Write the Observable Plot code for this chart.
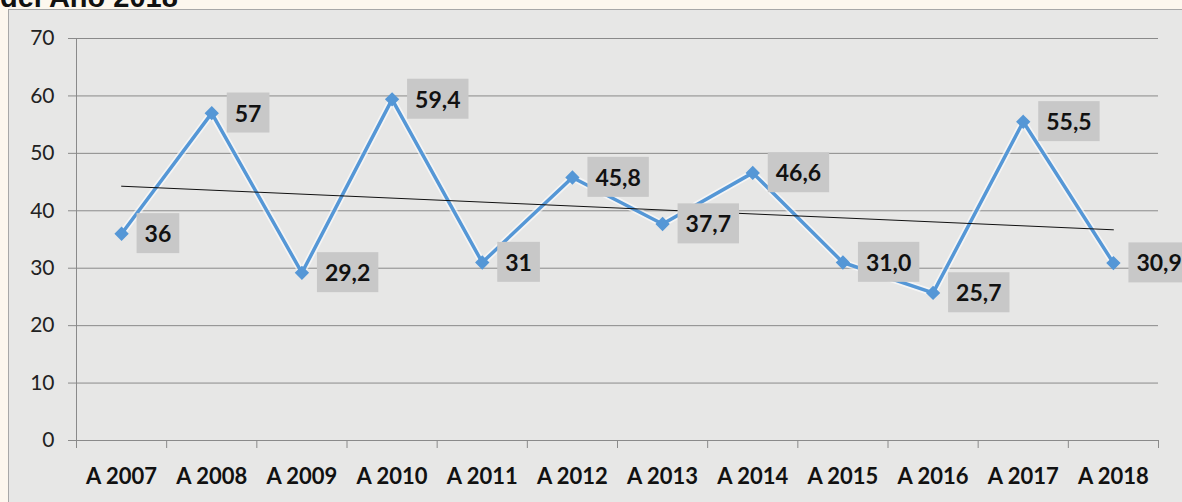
<!DOCTYPE html>
<html>
<head>
<meta charset="utf-8">
<script src="https://cdn.jsdelivr.net/npm/d3@7"></script>
<script src="https://cdn.jsdelivr.net/npm/@observablehq/plot@0.6"></script>
<style>
  html, body { margin: 0; padding: 0; }
  body { width: 1182px; height: 502px; overflow: hidden; background: #fdf7ee; position: relative; font-family: Lato, "Noto Sans", sans-serif; }
  #panel { position: absolute; left: 8px; top: 9px; width: 1190px; height: 520px; background: #e7e7e6; border: 1px solid #a8a8a8; box-sizing: border-box; }
  #title { position: absolute; left: 0px; top: -19px; font: bold 29px "Liberation Sans", Arial, sans-serif; color: #111; white-space: nowrap; }
  #chart { position: absolute; left: 0; top: 0; }
</style>
</head>
<body>
<div id="panel"></div>
<div id="title">del Año 2018</div>
<div id="chart"></div>
<script>
const categories = ["A 2007","A 2008","A 2009","A 2010","A 2011","A 2012","A 2013","A 2014","A 2015","A 2016","A 2017","A 2018"];
const values = [36, 57, 29.2, 59.4, 31, 45.8, 37.7, 46.6, 31.0, 25.7, 55.5, 30.9];
const labels = ["36","57","29,2","59,4","31","45,8","37,7","46,6","31,0","25,7","55,5","30,9"];
const yTicks = [0, 10, 20, 30, 40, 50, 60, 70];

const data = categories.map((c, i) => ({i, c, v: values[i], label: labels[i]}));
const boundaries = d3.range(categories.length + 1).map(k => k - 0.5);

const chart = Plot.plot({
  width: 1182,
  height: 502,
  marginLeft: 76,
  marginRight: 24,
  marginTop: 38,
  marginBottom: 62,
  style: {background: "transparent", overflow: "visible"},
  x: {domain: [-0.5, categories.length - 0.5], label: null},
  y: {domain: [0, 70], label: null},
  marks: [
    Plot.gridY(yTicks, {stroke: "#8a8a8a", strokeOpacity: 1, strokeWidth: 1}),
    Plot.ruleX([-0.5], {stroke: "#8a8a8a"}),
    Plot.axisY(yTicks, {label: null, tickSize: 8, tickPadding: 14, stroke: "#8a8a8a", fontSize: 21, fill: "#222", fontFamily: "Lato", tickFormat: d => String(d)}),
    Plot.axisX(boundaries, {label: null, tickSize: 8, stroke: "#8a8a8a", tickFormat: () => ""}),
    Plot.axisX(d3.range(categories.length), {label: null, tickSize: 0, tickPadding: 28, fontSize: 22, fontWeight: "bold", fill: "#111", fontFamily: "Lato", tickFormat: i => categories[i]}),
    Plot.line(data, {x: "i", y: "v", stroke: "#ffffff", strokeWidth: 7, strokeOpacity: 0.6}),
    Plot.line(data, {x: "i", y: "v", stroke: "#5597d6", strokeWidth: 3.5}),
    Plot.dot(data, {x: "i", y: "v", symbol: "diamond2", r: 5.5, fill: "#5597d6", stroke: "#5597d6"}),
    Plot.linearRegressionY(data, {x: "i", y: "v", ci: 0, stroke: "#111", strokeWidth: 1}),
    Plot.text(data, {x: "i", y: "v", text: "label", textAnchor: "start", lineAnchor: "middle", dx: 23, dy: 1, fontSize: 23, fontWeight: "bold", fill: "#111", fontFamily: "Lato", className: "lbl"})
  ]
});
document.getElementById("chart").appendChild(chart);

// gray label boxes behind the data labels
document.querySelectorAll(".lbl text").forEach(t => {
  const b = t.getBBox();
  const r = document.createElementNS("http://www.w3.org/2000/svg", "rect");
  r.setAttribute("x", b.x - 8);
  r.setAttribute("y", b.y - 6);
  r.setAttribute("width", b.width + 16);
  r.setAttribute("height", b.height + 12);
  r.setAttribute("fill", "#c8c8c8");
  const tr = t.getAttribute("transform");
  if (tr) r.setAttribute("transform", tr);
  t.parentNode.insertBefore(r, t);
});
</script>
</body>
</html>
